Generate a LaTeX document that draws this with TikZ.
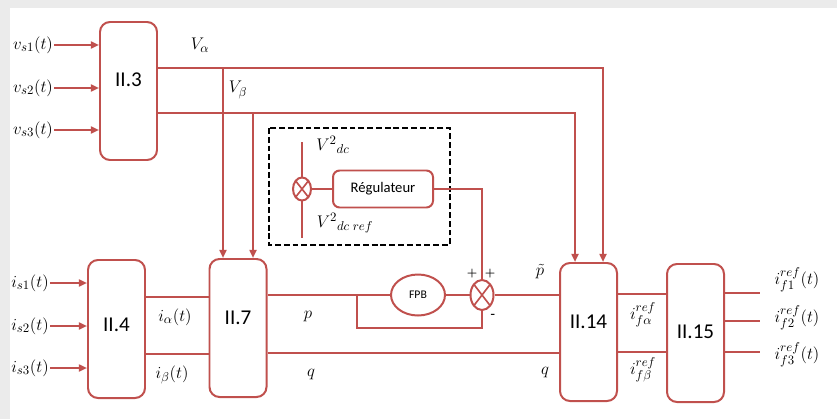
\documentclass[tikz,border=0pt]{standalone}
\usepackage{fontspec}
\setsansfont{Carlito}
\usetikzlibrary{arrows.meta,shapes.geometric}
\definecolor{brick}{RGB}{192,80,77}
\tikzset{
  wire/.style={draw=brick, line width=1.7pt},
  feed/.style={wire, -{Triangle[length=7pt,width=6pt]}},
  block/.style={draw=brick, line width=1.7pt, rounded corners=3mm,
    minimum width=17.1mm, minimum height=41.4mm},
  blockname/.style={font=\sffamily\fontsize{18}{21}\selectfont},
  sig/.style={font=\fontsize{15}{17}\selectfont, inner sep=1pt},
  sign/.style={font=\bfseries\fontsize{10}{12}\selectfont},
  mult/.style={ellipse, draw=brick, line width=1.7pt, inner sep=0pt,
    path picture={\draw[brick, line width=1.4pt]
      (path picture bounding box.north west) -- (path picture bounding box.south east)
      (path picture bounding box.south west) -- (path picture bounding box.north east);}}
}
\begin{document}
\begin{tikzpicture}[x=0.3mm,y=-0.3mm]
\fill[black!8] (0,0) rectangle (837,419);
\fill[white] (10,8) rectangle (837,419);

% blocs
\node[block] (b3) at (128.5,91) {};
\node[block] (b4) at (116.5,329) {};
\node[block] (b7) at (238,328) {};
\node[block] (b14) at (588.5,332) {};
\node[block] (b15) at (695.5,333) {};
\node[blockname] (n3) at (128.5,80) {II.3};
\node[blockname] (n4) at (116.5,325) {II.4};
\node[blockname] (n7) at (238,318) {II.7};
\node[blockname] (n14) at (588.5,322) {II.14};
\node[blockname] (n15) at (695.5,332) {II.15};

% entrees
\node[sig] (vs1) at (33,45) {$v_{s1}(t)$};
\node[sig] (vs2) at (33,88) {$v_{s2}(t)$};
\node[sig] (vs3) at (33,130) {$v_{s3}(t)$};
\draw[feed] (vs1.east) -- (vs1.east -| b3.west);
\draw[feed] (vs2.east) -- (vs2.east -| b3.west);
\draw[feed] (vs3.east) -- (vs3.east -| b3.west);

\node[sig] (is1) at (30,283) {$i_{s1}(t)$};
\node[sig] (is2) at (30,326) {$i_{s2}(t)$};
\node[sig] (is3) at (30,368) {$i_{s3}(t)$};
\draw[feed] (is1.east) -- (is1.east -| b4.west);
\draw[feed] (is2.east) -- (is2.east -| b4.west);
\draw[feed] (is3.east) -- (is3.east -| b4.west);

% tensions
\coordinate (ya) at (0,68);
\coordinate (yb) at (0,113);
\coordinate (xa) at (603,0);
\coordinate (xb) at (575,0);
\coordinate (ka) at (223,68);
\coordinate (kb) at (253,113);
\draw[feed] (b3.east |- ya) -- (xa |- ya) -- (xa |- b14.north);
\draw[feed] (b3.east |- yb) -- (xb |- yb) -- (xb |- b14.north);
\draw[feed] (ka) -- (ka |- b7.north);
\draw[feed] (kb) -- (kb |- b7.north);
\node[sig] (lva) at (200,45) {$V_\alpha$};
\node[sig] (lvb) at (238,90) {$V_\beta$};

% courants
\coordinate (yia) at (0,297);
\coordinate (yib) at (0,354);
\draw[wire] (b4.east |- yia) -- (b7.west |- yia);
\draw[wire] (b4.east |- yib) -- (b7.west |- yib);
\node[sig] (lia) at (175,317) {$i_\alpha(t)$};
\node[sig] (lib) at (172,375) {$i_\beta(t)$};

% regulation
\draw[black, line width=1.5pt, dash pattern=on 5pt off 2.5pt] (269,128) rectangle (450,245);
\node[mult, minimum width=5.4mm, minimum height=6.9mm] (mul) at (302,189) {};
\node[draw=brick, line width=1.7pt, rounded corners=2mm, minimum width=30mm,
  minimum height=11.1mm, font=\sffamily\fontsize{12.5}{14}\selectfont] (reg) at (383,189) {Régulateur};
\coordinate (vtop) at (302,142);
\coordinate (vbot) at (302,238);
\draw[wire] (vtop) -- (mul.north);
\draw[wire] (mul.south) -- (vbot);
\draw[wire] (mul) -- (reg);
\node[sig] (lvdc) at (333,145) {$V^{2}{}_{dc}$};
\node[sig] (lvref) at (345,223) {$V^{2}{}_{dc\;ref}$};

\node[ellipse, draw=brick, line width=1.7pt, minimum width=16.2mm, minimum height=12.3mm,
  font=\sffamily\fontsize{10}{12}\selectfont] (fpb) at (418,295) {FPB};
\node[mult, minimum width=6.9mm, minimum height=9mm] (sum) at (482,295) {};
\draw[wire] (reg.east) -| (sum.north);
\draw[wire] (b7.east |- fpb) -- (fpb);
\draw[wire] (fpb) -- (sum);
\draw[wire] (sum) -- (b14.west |- sum);
\coordinate (fb) at (357,295);
\coordinate (yfb) at (0,328);
\draw[wire] (fb) -- (fb |- yfb) -- (sum.south |- yfb) -- (sum.south);
\node[sign] (s1) at (472,274) {+};
\node[sign] (s2) at (490,274) {+};
\node[sign] (s3) at (493,316) {-};

% puissances
\coordinate (yq) at (0,353);
\draw[wire] (b7.east |- yq) -- (b14.west |- yq);
\node[sig] (lp) at (308,317) {$p$};
\node[sig] (lq) at (311,375) {$q$};
\node[sig] (lpt) at (540,272) {$\tilde{p}$};
\node[sig] (lq2) at (545,373) {$q$};

% references
\coordinate (yfa) at (0,294);
\coordinate (yfb2) at (0,352);
\draw[wire] (b14.east |- yfa) -- (b15.west |- yfa);
\draw[wire] (b14.east |- yfb2) -- (b15.west |- yfb2);
\node[sig] (lifa) at (643,315) {$i_{f\alpha}^{ref}$};
\node[sig] (lifb) at (643,370) {$i_{f\beta}^{ref}$};

\coordinate (o1) at (760,293);
\coordinate (o2) at (760,321);
\coordinate (o3) at (760,352);
\draw[wire] (b15.east |- o1) -- (o1);
\draw[wire] (b15.east |- o2) -- (o2);
\draw[wire] (b15.east |- o3) -- (o3);
\node[sig] (if1) at (797,280) {$i_{f1}^{ref}(t)$};
\node[sig] (if2) at (797,318) {$i_{f2}^{ref}(t)$};
\node[sig] (if3) at (797,355) {$i_{f3}^{ref}(t)$};
\end{tikzpicture}
\end{document}
